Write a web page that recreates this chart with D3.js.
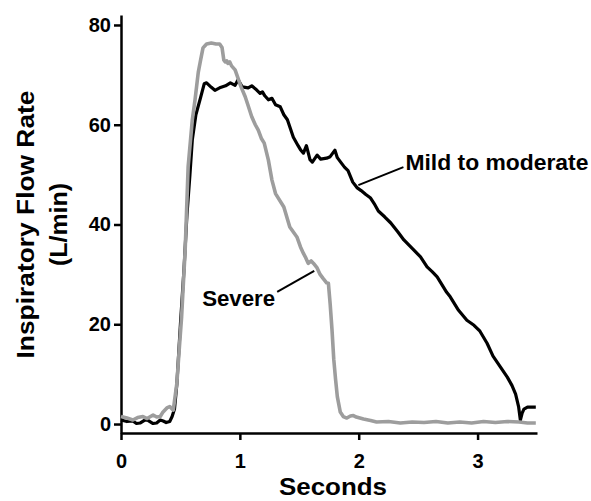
<!DOCTYPE html>
<html>
<head>
<meta charset="utf-8">
<script src="https://cdn.jsdelivr.net/npm/d3@7"></script>
<style>
  body { margin: 0; background: #fff; }
  text { font-family: "Liberation Sans", Arial, Helvetica, sans-serif; font-weight: bold; }
</style>
</head>
<body>
<div id="chart"></div>
<script>
// seconds, L/min
var mildData = [
  [0,0.8],[0.05,0.5],[0.1,0.6],[0.13,0.1],[0.16,0.2],[0.2,0.8],[0.23,0.7],[0.27,0.1],[0.3,0.2],[0.33,0.8],[0.355,0.6],
  [0.38,0.3],[0.41,0.5],[0.43,1.5],[0.45,3],[0.47,8],[0.5,20],[0.53,31],[0.555,42],[0.58,50],[0.6,57],
  [0.63,62],[0.67,65.5],[0.7,68.2],[0.72,68.4],[0.76,67.5],[0.79,66.9],[0.83,67.4],[0.88,67.8],[0.92,68.4],
  [0.96,67.9],[0.985,69],[1.02,67.6],[1.07,67.4],[1.1,67.8],[1.14,67],[1.17,66.3],[1.19,66.6],[1.21,65.8],
  [1.24,65],[1.27,65.3],[1.3,64],[1.34,63.6],[1.37,62],[1.4,61],[1.45,57.5],[1.49,55.8],[1.51,55],[1.535,54.3],
  [1.56,55.8],[1.59,53],[1.61,52.5],[1.65,53.9],[1.68,53.1],[1.73,53.3],[1.76,53.6],[1.8,54.9],[1.82,53.4],
  [1.845,52.6],[1.88,51.5],[1.91,50.8],[1.95,48.5],[1.985,47.4],[2.02,46.8],[2.06,46],[2.1,45.3],[2.13,44.2],
  [2.165,42.7],[2.22,41.5],[2.27,40.3],[2.33,38.5],[2.38,36.9],[2.45,35.2],[2.52,33.5],[2.575,31.5],[2.62,30.5],
  [2.66,29.5],[2.74,26.4],[2.77,25.5],[2.84,22.8],[2.91,20.8],[2.97,19.8],[3.02,18.6],[3.08,16.2],[3.13,13.6],
  [3.19,11.5],[3.25,9.4],[3.29,7.7],[3.32,6],[3.345,3.5],[3.36,0.8],[3.375,2.2],[3.39,3],[3.42,3.4],[3.49,3.4]
];

var severeData = [
  [0,1.5],[0.05,1.2],[0.1,0.8],[0.14,1.3],[0.185,1.5],[0.22,1.1],[0.27,1.8],[0.3,1.4],[0.33,1.5],[0.35,2.3],
  [0.37,2.8],[0.39,3.3],[0.41,3.5],[0.43,3.0],[0.44,2.8],[0.47,8.2],[0.49,15],[0.51,21.5],[0.54,35],[0.565,51.6],
  [0.6,61],[0.623,65],[0.65,70.5],[0.67,73],[0.69,75.4],[0.72,76.2],[0.76,76.4],[0.8,76.2],[0.83,76.2],[0.85,75.5],
  [0.865,73],[0.876,72.6],[0.89,72.8],[0.9,72.3],[0.915,72.6],[0.93,71.8],[0.96,71],[0.985,69.3],[1.01,67.6],
  [1.045,65.6],[1.07,63.8],[1.1,61.6],[1.13,60],[1.155,58.9],[1.18,57.3],[1.205,56.3],[1.24,52.9],[1.27,48.9],
  [1.3,46.2],[1.37,43.5],[1.42,39.5],[1.48,37.5],[1.51,35.5],[1.535,34.2],[1.555,33.3],[1.575,32.2],[1.6,32.7],
  [1.62,32.2],[1.65,31.3],[1.675,30],[1.7,29.2],[1.73,28.3],[1.745,28.2],[1.76,24],[1.775,19],[1.79,13],
  [1.805,9],[1.82,5.5],[1.845,2.4],[1.87,1.5],[1.9,1.2],[1.93,1.6],[1.955,1.7],[1.98,1.4],[2.04,1.0],[2.1,0.7],
  [2.15,0.4],[2.25,0.5],[2.35,0.2],[2.45,0.4],[2.55,0.3],[2.65,0.5],[2.75,0.2],[2.85,0.4],[2.95,0.2],[3.05,0.5],
  [3.15,0.3],[3.25,0.5],[3.35,0.4],[3.42,0.2],[3.49,0.2]
];

var xTicks = [0, 1, 2, 3];
var yTicks = [0, 20, 40, 60, 80];

// label text, label anchor (data), leader line from/to (data)
var notes = [
  { text: "Mild to moderate", at: [2.393, 50.9], anchor: "start", from: [2.376, 51.5], to: [1.997, 47.9], len: 183 },
  { text: "Severe", at: [1.297, 23.7], anchor: "end", from: [1.314, 26.5], to: [1.626, 30.7], len: 73 }
];

var width = 591, height = 501;
var margin = { top: 15, right: 54, bottom: 68, left: 121 };

var svg = d3.select("#chart").append("svg")
  .attr("width", width).attr("height", height);

var x = d3.scaleLinear().domain([0, 3.5]).range([margin.left, width - margin.right]);
var y = d3.scaleLinear().domain([-1.8, 82]).range([height - margin.bottom, margin.top]);

svg.append("g")
  .attr("transform", "translate(0," + (height - margin.bottom) + ")")
  .call(d3.axisBottom(x).tickValues(xTicks).tickFormat(d3.format("d")).tickSize(7).tickSizeOuter(0).tickPadding(14));

svg.append("g")
  .attr("transform", "translate(" + margin.left + ",0)")
  .call(d3.axisLeft(y).tickValues(yTicks).tickSize(7).tickSizeOuter(0).tickPadding(3));

svg.selectAll(".domain").attr("stroke", "#000").attr("stroke-width", 2.5);
svg.selectAll(".tick line").attr("stroke", "#000").attr("stroke-width", 2.5);
svg.selectAll(".tick text").attr("fill", "#000").style("font-size", "20px");

var line = d3.line().x(function(d) { return x(d[0]); }).y(function(d) { return y(d[1]); });

svg.append("path").datum(mildData)
  .attr("d", line).attr("fill", "none")
  .attr("stroke", "#000").attr("stroke-width", 3.2).attr("stroke-linejoin", "round");

svg.append("path").datum(severeData)
  .attr("d", line).attr("fill", "none")
  .attr("stroke", "#9d9d9d").attr("stroke-width", 3.6).attr("stroke-linejoin", "round");

// annotations
notes.forEach(function(n) {
  svg.append("line")
    .attr("x1", x(n.from[0])).attr("y1", y(n.from[1]))
    .attr("x2", x(n.to[0])).attr("y2", y(n.to[1]))
    .attr("stroke", "#000").attr("stroke-width", 2);
  svg.append("text")
    .attr("x", x(n.at[0])).attr("y", y(n.at[1]))
    .attr("text-anchor", n.anchor)
    .attr("textLength", n.len).attr("lengthAdjust", "spacingAndGlyphs")
    .style("font-size", "22px")
    .text(n.text);
});

// axis titles
svg.append("text")
  .attr("x", (margin.left + width - margin.right) / 2 + 4)
  .attr("y", 495)
  .attr("text-anchor", "middle")
  .attr("textLength", 108).attr("lengthAdjust", "spacingAndGlyphs")
  .style("font-size", "23px")
  .text("Seconds");

var midY = y(40);
svg.append("text")
  .attr("transform", "translate(34," + midY + ") rotate(-90)")
  .attr("text-anchor", "middle")
  .attr("textLength", 268).attr("lengthAdjust", "spacingAndGlyphs")
  .style("font-size", "23px")
  .text("Inspiratory Flow Rate");

svg.append("text")
  .attr("transform", "translate(67," + midY + ") rotate(-90)")
  .attr("text-anchor", "middle")
  .attr("textLength", 83).attr("lengthAdjust", "spacingAndGlyphs")
  .style("font-size", "23px")
  .text("(L/min)");
</script>
</body>
</html>
